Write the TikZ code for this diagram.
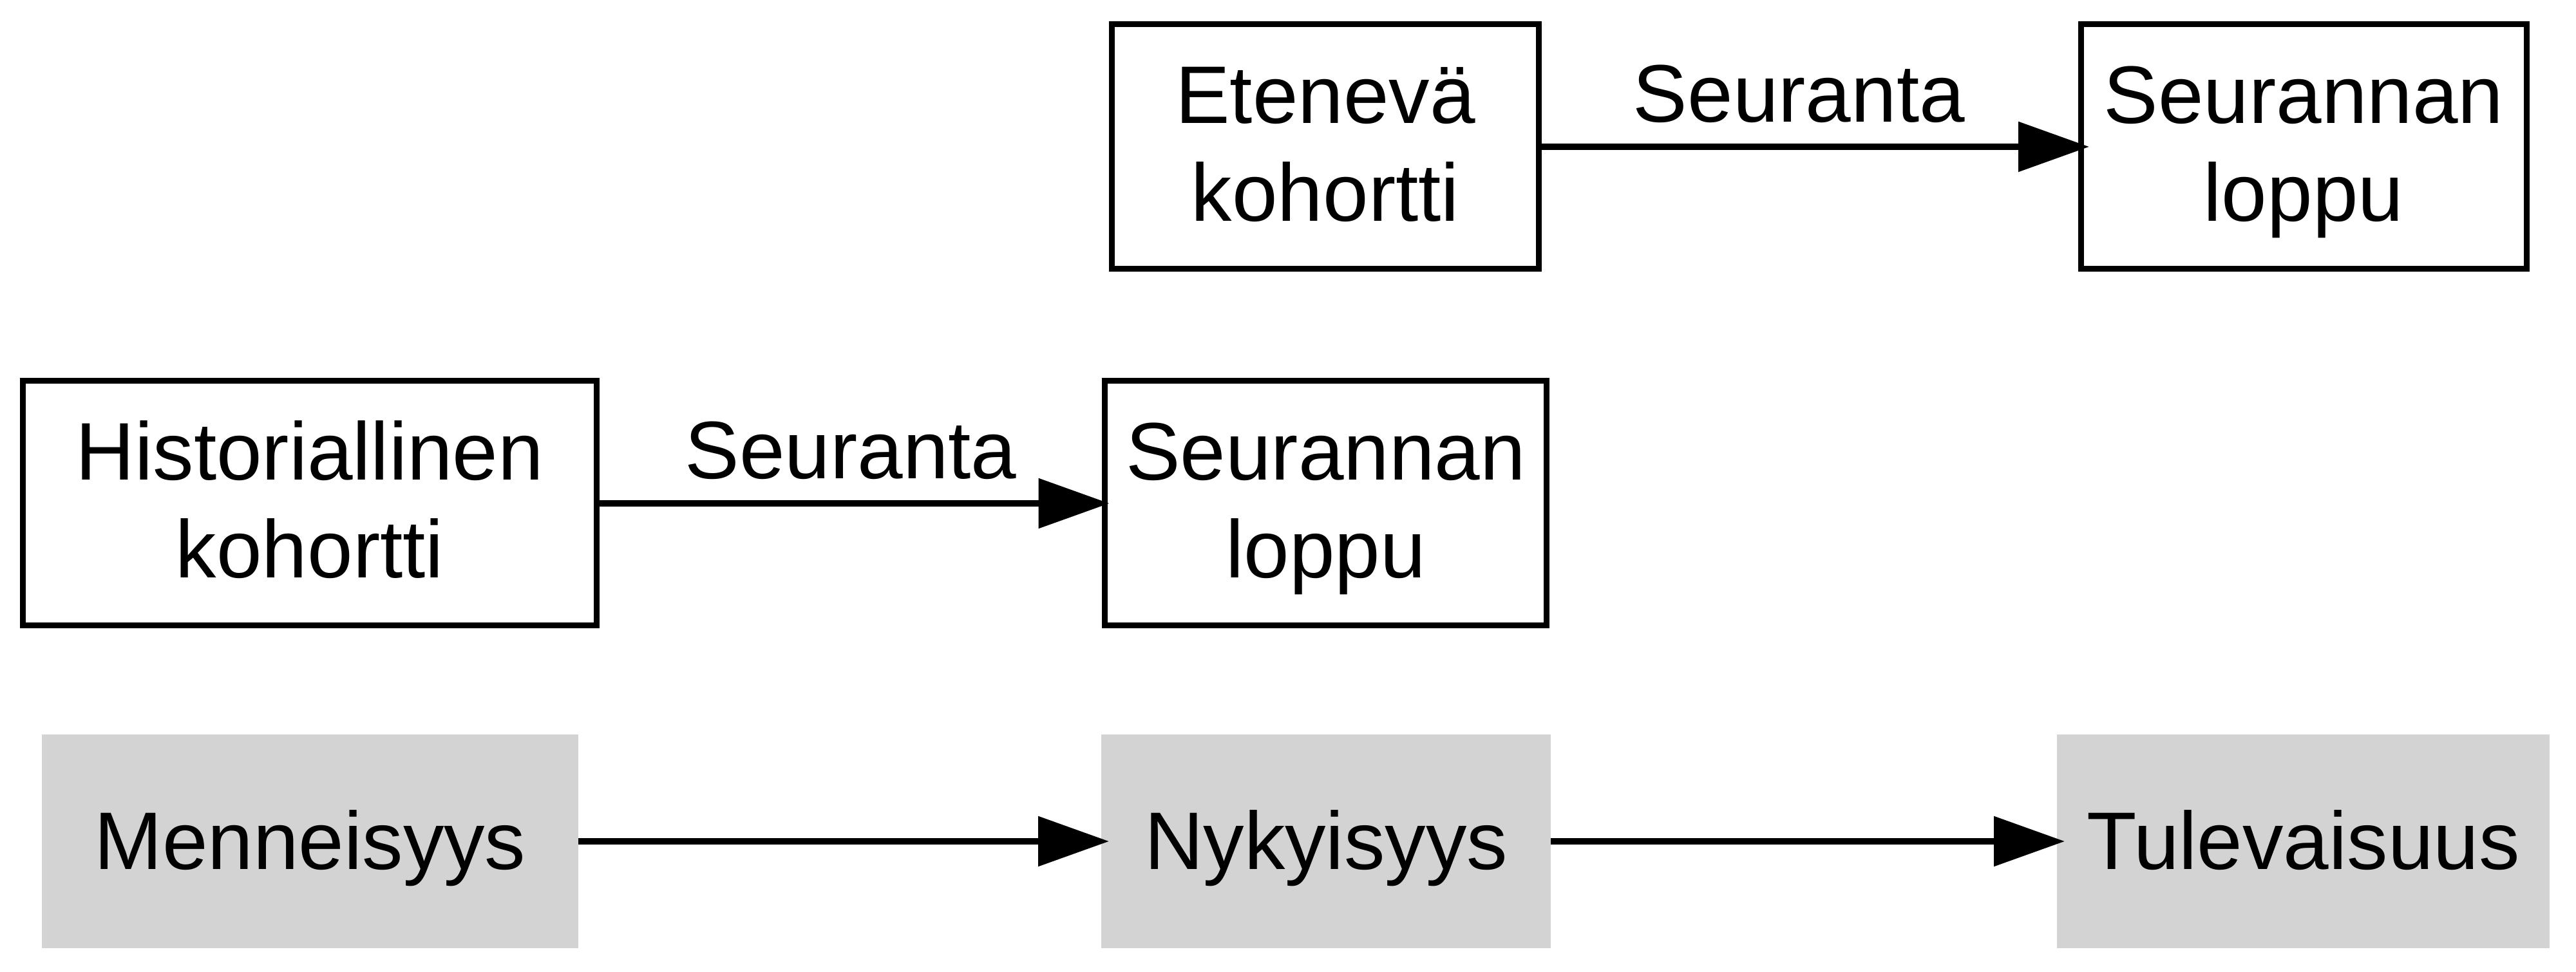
\documentclass[tikz,border=0pt]{standalone}
\usepackage{fontspec}
\setmainfont{Liberation Sans}
\usetikzlibrary{arrows.meta}
\definecolor{boxgrey}{RGB}{211,211,211}
\newcommand{\mytwo}[2]{\rule{0pt}{1.09cm}#1\\#2\rule[-0.3cm]{0pt}{0.3cm}}
\newcommand{\myone}[1]{\rule[-0.3cm]{0pt}{1.48cm}#1}
\tikzset{
  every node/.style={outer sep=0pt, inner sep=0pt, font=\fontsize{36.1pt}{43.5pt}\selectfont},
  whitebox/.style={draw=black, line width=0.09cm, fill=white, align=center, minimum height=3.8cm},
  greybox/.style={fill=boxgrey, align=center, minimum height=3.32cm},
  arr/.style={line width=0.093cm, -{Triangle[length=1.1cm, width=0.76cm]}},
  lbl/.style={anchor=base, yshift=0.38cm}
}
\begin{document}
\begin{tikzpicture}
\useasboundingbox (0,0) rectangle (40,15.1);
% top row
\node[whitebox, minimum width=6.63cm] (eten) at (20.58,12.82) {\mytwo{Etenevä}{kohortti}};
\node[whitebox, minimum width=6.92cm] (loppuA) at (35.77,12.82) {\mytwo{Seurannan}{loppu}};
% middle row
\node[whitebox, minimum width=8.91cm] (hist) at (4.81,7.28) {\mytwo{Historiallinen}{kohortti}};
\node[whitebox, minimum width=6.86cm] (loppuB) at (20.585,7.28) {\mytwo{Seurannan}{loppu}};
% bottom row
\node[greybox, minimum width=8.33cm] (menn) at (4.815,2.03) {\myone{Menneisyys}};
\node[greybox, minimum width=6.98cm] (nyky) at (20.59,2.03) {\myone{Nykyisyys}};
\node[greybox, minimum width=7.65cm] (tule) at (35.765,2.03) {\myone{Tulevaisuus}};
% connectors
\draw[arr, shorten >=-0.13cm] (eten.east) -- node[lbl, pos=0.48] {Seuranta} (loppuA.west);
\draw[arr, shorten >=-0.07cm] (hist.east) -- node[lbl] {Seuranta} (loppuB.west);
\draw[arr, shorten >=-0.12cm] (menn.east) -- (nyky.west);
\draw[arr, shorten >=-0.12cm] (nyky.east) -- (tule.west);
\end{tikzpicture}
\end{document}
